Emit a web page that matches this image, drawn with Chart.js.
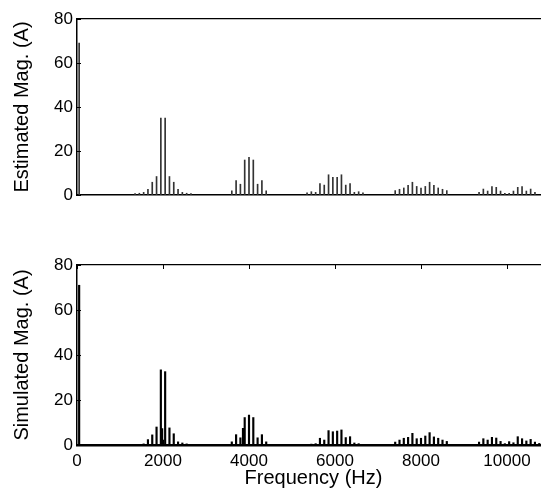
<!DOCTYPE html>
<html>
<head>
<meta charset="utf-8">
<script src="https://cdn.jsdelivr.net/npm/chart.js@4.4.0/dist/chart.umd.min.js"></script>
<style>
  html, body { margin: 0; padding: 0; background: #fff; }
  body { width: 541px; height: 496px; overflow: hidden; position: relative; }
  canvas { position: absolute; left: 0; }
  #estChart { top: 0; }
  #simChart { top: 245px; }
</style>
</head>
<body>
<canvas id="estChart" width="556" height="215"></canvas>
<canvas id="simChart" width="556" height="251"></canvas>
<script>
// tick positions
const xTicks = [0, 2000, 4000, 6000, 8000, 10000];
const yTicks = [0, 20, 40, 60, 80];

// estimated spectrum (Hz / A)
const estFreq = [
  50,
  1350, 1450, 1550, 1650, 1750, 1850, 1950, 2050, 2150, 2250, 2350, 2450, 2550, 2650,
  3600, 3700, 3800, 3900, 4000, 4100, 4200, 4300, 4400,
  5350, 5450, 5550, 5650, 5750, 5850, 5950, 6050, 6150, 6250, 6350, 6450, 6550, 6650,
  7400, 7500, 7600, 7700, 7800, 7900, 8000, 8100, 8200, 8300, 8400, 8500, 8600,
  9350, 9450, 9550, 9650, 9750, 9850, 9950, 10050, 10150, 10250, 10350, 10450, 10550, 10650
];
const estMag = [
  69,
  0.6, 0.8, 1.2, 2.6, 5.8, 8.4, 35, 35, 8.4, 5.8, 2.6, 1.2, 0.8, 0.6,
  1.9, 6.5, 4.9, 15.9, 17.1, 15.9, 4.9, 6.5, 1.9,
  1.0, 1.5, 1.2, 5.2, 4.5, 9.2, 8.0, 8.0, 9.2, 4.5, 5.2, 1.2, 1.5, 1.0,
  2.0, 2.6, 3.2, 4.4, 5.8, 3.9, 3.2, 3.9, 5.8, 4.4, 3.2, 2.6, 2.0,
  1.2, 2.7, 1.8, 3.8, 3.5, 1.8, 0.8, 0.8, 1.8, 3.5, 3.8, 1.8, 2.7, 1.2
];

// simulated spectrum (Hz / A)
const simFreq = [
  50,
  1550, 1650, 1750, 1850, 1950, 1980, 2000, 2050, 2150, 2250, 2350, 2450, 2550,
  3600, 3700, 3800, 3860, 3900, 4000, 4100, 4200, 4300, 4400,
  5450, 5550, 5650, 5750, 5850, 5950, 6050, 6150, 6250, 6350, 6450, 6550,
  7400, 7500, 7600, 7700, 7800, 7900, 8000, 8100, 8200, 8300, 8400, 8500, 8600,
  9350, 9450, 9550, 9650, 9750, 9850, 9950, 10050, 10150, 10250, 10350, 10450, 10550, 10650, 10750
];
const simMag = [
  71,
  0.5, 2.4, 4.5, 8.0, 33.4, 7.3, 2.2, 32.6, 7.6, 5.0, 1.4, 0.9, 0.5,
  1.4, 4.6, 3.2, 7.4, 12.2, 13.3, 12.2, 3.2, 4.6, 1.4,
  0.4, 0.6, 3.0, 2.2, 6.4, 5.9, 6.2, 6.7, 3.3, 3.7, 0.9, 0.6,
  1.3, 2.2, 3.0, 3.4, 5.2, 2.8, 3.0, 4.0, 5.5, 3.6, 3.0, 2.2, 1.6,
  1.3, 2.8, 2.2, 3.4, 3.1, 1.6, 0.6, 1.5, 1.0, 3.7, 2.8, 1.8, 2.5, 1.3, 0.7
];

const FONT = "Arial, 'Liberation Sans', Helvetica, sans-serif";

// matlab-ish inward ticks on the left axis (and top border if asked)
const innerTicks = {
  id: 'innerTicks',
  afterDraw(chart, args, opts) {
    const { ctx, chartArea, scales } = chart;
    ctx.save();
    ctx.strokeStyle = '#000';
    ctx.lineWidth = 1;
    ctx.beginPath();
    yTicks.forEach(v => {
      const y = Math.round(scales.y.getPixelForValue(v)) + 0.5;
      ctx.moveTo(chartArea.left, y);
      ctx.lineTo(chartArea.left + 4, y);
    });
    if (opts.top) {
      xTicks.forEach(v => {
        const x = Math.round(scales.x.getPixelForValue(v)) + 0.5;
        ctx.moveTo(x, chartArea.top);
        ctx.lineTo(x, chartArea.top + 4);
      });
    }
    ctx.stroke();
    ctx.restore();
  }
};

function spectrumConfig(freq, mag, yLabel, opt) {
  return {
    type: 'bar',
    plugins: [innerTicks],
    data: {
      datasets: [{
        data: freq.map((f, i) => ({ x: f, y: mag[i] })),
        backgroundColor: opt.barColor,
        borderWidth: 0,
        barThickness: opt.barWidth,
        grouped: false
      }]
    },
    options: {
      responsive: false,
      animation: false,
      events: [],
      layout: { padding: { top: opt.padTop, left: 0, right: 6, bottom: 0 } },
      plugins: {
        legend: { display: false },
        tooltip: { enabled: false },
        innerTicks: { top: opt.topTicks }
      },
      scales: {
        x: {
          type: 'linear',
          min: 0,
          max: 11000,
          offset: false,
          grid: { display: false },
          border: { display: true, color: '#000', width: opt.baseWidth },
          ticks: {
            display: opt.showX,
            color: '#000',
            font: { family: FONT, size: 17 },
            padding: -2,
            maxRotation: 0,
            callback: v => String(v)
          },
          afterBuildTicks: s => { s.ticks = xTicks.map(v => ({ value: v })); },
          title: {
            display: opt.showX,
            text: 'Frequency (Hz)',
            color: '#000',
            font: { family: FONT, size: 20 },
            padding: { top: 0, bottom: 6 }
          },
          afterFit: s => { s.height = opt.xHeight; }
        },
        x2: {
          type: 'linear',
          axis: 'x',
          position: 'top',
          min: 0,
          max: 11000,
          grid: { display: false },
          ticks: { display: false },
          border: { display: true, color: '#000', width: 1.2 },
          afterFit: s => { s.height = 0; }
        },
        y: {
          min: 0,
          max: 80,
          grid: { display: false, drawTicks: false },
          border: { display: true, color: '#000', width: 1.5 },
          afterBuildTicks: s => { s.ticks = yTicks.map(v => ({ value: v })); },
          ticks: {
            color: '#000',
            font: { family: FONT, size: 17 },
            padding: 4
          },
          title: {
            display: true,
            text: yLabel,
            color: '#000',
            font: { family: FONT, size: 20 },
            padding: { top: 10.5, bottom: 0 }
          },
          afterFit: s => { s.width = 77; }
        }
      }
    }
  };
}

new Chart(document.getElementById('estChart'), spectrumConfig(estFreq, estMag, 'Estimated Mag. (A)', {
  padTop: 19, xHeight: 20, showX: false, topTicks: false,
  barColor: '#333', barWidth: 1, baseWidth: 1.5
}));

new Chart(document.getElementById('simChart'), spectrumConfig(simFreq, simMag, 'Simulated Mag. (A)', {
  padTop: 20, xHeight: 51, showX: true, topTicks: true,
  barColor: '#000', barWidth: 1.5, baseWidth: 2.5
}));
</script>
</body>
</html>
